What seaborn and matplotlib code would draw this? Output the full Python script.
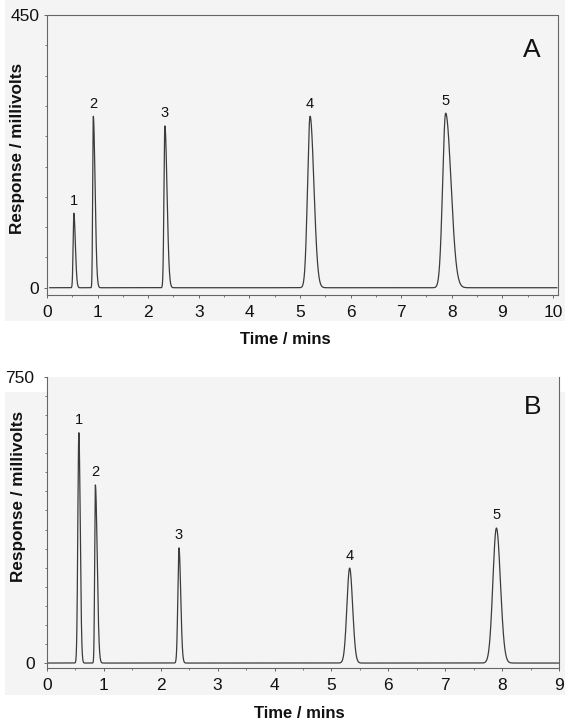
import numpy as np
import pandas as pd
import matplotlib
matplotlib.use("Agg")
import matplotlib.pyplot as plt
from matplotlib.patches import Rectangle
from matplotlib.ticker import MultipleLocator, FixedLocator
import seaborn as sns

# ---- Chromatogram A: peak table (retention time / min, height / mV, leading & tailing widths / min)
a_labels = ["1", "2", "3", "4", "5"]
a_rt = [0.53, 0.915, 2.33, 5.20, 7.88]
a_height = [123, 283, 267, 283, 288]
a_lead = [0.014, 0.012, 0.018, 0.050, 0.060]
a_tail = [0.030, 0.035, 0.042, 0.075, 0.105]

# ---- Chromatogram B: peak table
b_labels = ["1", "2", "3", "4", "5"]
b_rt = [0.56, 0.85, 2.32, 5.32, 7.90]
b_height = [604, 467, 302, 249, 354]
b_lead = [0.018, 0.012, 0.020, 0.048, 0.062]
b_tail = [0.024, 0.032, 0.030, 0.052, 0.070]

a_xticks = list(range(0, 11))
b_xticks = list(range(0, 10))
a_yticks = [0, 450]
b_yticks = [0, 750]


def trace(t, rt, height, lead, tail):
    """Sum of asymmetric Gaussian peaks on a flat baseline."""
    y = np.zeros_like(t)
    for r, h, sl, st in zip(rt, height, lead, tail):
        s = np.where(t < r, sl, st)
        y += h * np.exp(-0.5 * ((t - r) / s) ** 2)
    return y


t_a = np.linspace(0.05, 10.08, 6000)
t_b = np.linspace(0.0, 9.0, 6000)
df_a = pd.DataFrame({"time": t_a, "response": trace(t_a, a_rt, a_height, a_lead, a_tail)})
df_b = pd.DataFrame({"time": t_b, "response": trace(t_b, b_rt, b_height, b_lead, b_tail)})

sns.set_style("ticks")
plt.rcParams["font.family"] = ["Liberation Sans", "DejaVu Sans"]

W, H = 565, 723
fig = plt.figure(figsize=(W / 100, H / 100), dpi=100)
fig.patch.set_facecolor("white")

panel_bg = "#f4f4f4"
fig.patches.append(Rectangle((5 / W, 1 - 321 / H), 1 - 5 / W, 321 / H,
                             transform=fig.transFigure, facecolor=panel_bg,
                             edgecolor="none", zorder=-10))
fig.patches.append(Rectangle((5 / W, 1 - 695 / H), 1 - 5 / W, (695 - 392) / H,
                             transform=fig.transFigure, facecolor=panel_bg,
                             edgecolor="none", zorder=-10))

ax_a = fig.add_axes([47 / W, 1 - 295 / H, (558 - 47) / W, (295 - 15) / H])
ax_b = fig.add_axes([47 / W, 1 - 668 / H, (559 - 47) / W, (668 - 377) / H])

line_col = "#3c3c3c"
axis_col = "#666666"

panels = [
    (ax_a, df_a, a_labels, a_rt, a_height, a_xticks, a_yticks, (0, 10.1), (-12, 450), "A",
     (0.949, 0.875), 3.0, (0.466, -0.16), (-0.057, 0.525)),
    (ax_b, df_b, b_labels, b_rt, b_height, b_xticks, b_yticks, (0, 9.0), (-13, 750), "B",
     (0.949, 0.897), 6.5, (0.492, -0.155), (-0.056, 0.588)),
]

for (ax, df, labels, rt, height, xticks, yticks, xlim, ylim, letter,
     letter_pos, ypad, xlab_pos, ylab_pos) in panels:
    ax.set_facecolor(panel_bg)
    sns.lineplot(data=df, x="time", y="response", ax=ax, color=line_col,
                 linewidth=0.9, estimator=None, sort=False)
    ax.set_xlim(*xlim)
    ax.set_ylim(*ylim)

    for lab, r, h in zip(labels, rt, height):
        ax.annotate(lab, xy=(r, h), xytext=(0, 4), textcoords="offset points",
                    ha="center", va="bottom", fontsize=10.5, color="#111111")

    ax.text(*letter_pos, letter, transform=ax.transAxes, ha="center", va="center",
            fontsize=19, color="#111111")

    ax.xaxis.set_major_locator(FixedLocator(xticks))
    ax.set_xticklabels([str(v) for v in xticks])
    ax.xaxis.set_minor_locator(MultipleLocator(0.5))
    ax.yaxis.set_major_locator(FixedLocator(yticks))
    ax.set_yticklabels([str(v) for v in yticks])
    ax.yaxis.set_minor_locator(MultipleLocator(50))

    ax.tick_params(axis="x", which="major", length=2.5, width=0.7, color=axis_col,
                   labelsize=12.5, pad=4.5, labelcolor="#111111")
    ax.tick_params(axis="y", which="major", length=2.5, width=0.7, color=axis_col,
                   labelsize=12.5, pad=ypad, labelcolor="#111111")
    ax.tick_params(which="minor", length=1.5, width=0.6, color=axis_col)

    for side in ["left", "bottom", "right", "top"]:
        ax.spines[side].set_color(axis_col)
        ax.spines[side].set_linewidth(0.8)
        ax.spines[side].set_linestyle((0, (2, 1)))

    ax.set_xlabel("Time / mins", fontsize=12, fontweight="bold", color="#111111")
    ax.xaxis.label.set_va("center")
    ax.xaxis.set_label_coords(*xlab_pos)
    ax.set_ylabel("Response / millivolts", fontsize=12.3, fontweight="bold", color="#111111")
    ax.yaxis.label.set_va("center")
    ax.yaxis.set_label_coords(*ylab_pos)

ax_b.spines["top"].set_visible(False)

fig.savefig("out.png", dpi=100, facecolor="white")
